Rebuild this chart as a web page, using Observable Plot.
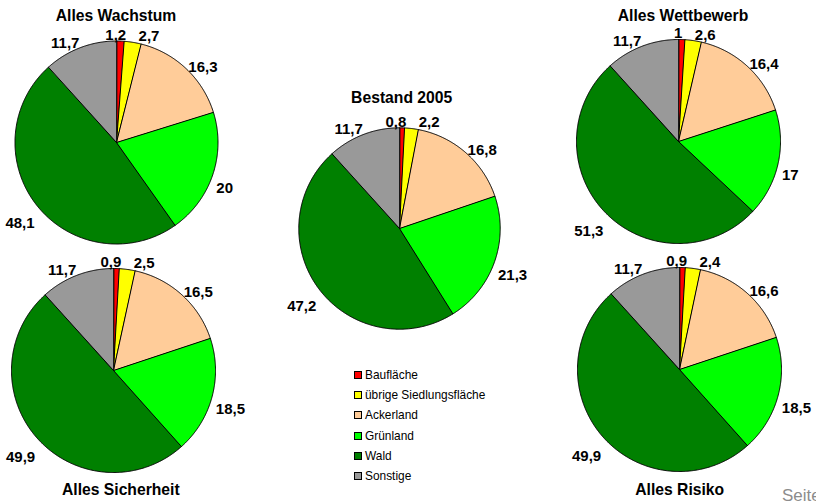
<!DOCTYPE html>
<html>
<head>
<meta charset="utf-8">
<script src="https://cdn.jsdelivr.net/npm/d3@7"></script>
<script src="https://cdn.jsdelivr.net/npm/@observablehq/plot@0.6"></script>
<style>
  html, body { margin: 0; padding: 0; background: #fff; }
  #root { position: relative; width: 816px; height: 502px; overflow: hidden; font-family: "Liberation Sans", Arial, sans-serif; }
  .pie { position: absolute; }
  .title { position: absolute; width: 300px; text-align: center; font-weight: bold; font-size: 15.7px; line-height: 1; color: #000; white-space: nowrap; }
  .legend { position: absolute; left: 354px; top: 365px; font-size: 11.9px; color: #000; }
  .legend .row { display: flex; align-items: center; height: 20.2px; }
  .legend .sw { width: 6px; height: 6px; border: 1px solid #000; margin-right: 3px; }
  .seite { position: absolute; left: 782px; top: 487px; font-size: 17px; line-height: 1; color: #8c8c8c; white-space: nowrap; }
</style>
</head>
<body>
<div id="root"></div>
<script>
// ---------- data ----------
const categories = ["Baufläche", "übrige Siedlungsfläche", "Ackerland", "Grünland", "Wald", "Sonstige"];
const sliceColors = ["#FF0000", "#FFFF00", "#FFCC99", "#00FF00", "#008000", "#999999"];
const pieTitles = ["Alles Wachstum", "Alles Sicherheit", "Bestand 2005", "Alles Wettbewerb", "Alles Risiko"];
const wachstum   = [1.2, 2.7, 16.3, 20.0, 48.1, 11.7];
const sicherheit = [0.9, 2.5, 16.5, 18.5, 49.9, 11.7];
const bestand    = [0.8, 2.2, 16.8, 21.3, 47.2, 11.7];
const wettbewerb = [1.0, 2.6, 16.4, 17.0, 51.3, 11.7];
const risiko     = [0.9, 2.4, 16.6, 18.5, 49.9, 11.7];
const seriesValues = [wachstum, sicherheit, bestand, wettbewerb, risiko];
const footerText = "Seite";

// ---------- layout (pixels) ----------
const layout = [
  {cx: 115.7, cy: 142.3, r: 101.5, tx: 116,   ty: 16},
  {cx: 113.0, cy: 370.0, r: 102.0, tx: 120.8, ty: 489.3},
  {cx: 399.0, cy: 227.5, r: 100.7, tx: 401.7, ty: 97.3},
  {cx: 678.0, cy: 141.3, r: 102.0, tx: 683,   ty: 16},
  {cx: 678.7, cy: 368.7, r: 102.0, tx: 679.7, ty: 489.3}
];
const HALF = 155;            // half size of each pie's svg (px)
const LABEL_FS = 15;
const TITLE_FS = 15.7;

const fmt = v => String(v).replace(".", ",");
const textW = (str, fs) => [...str].reduce((s, ch) => s + (/[0-9]/.test(ch) ? 0.556 : 0.278), 0) * fs;

function slicePolygons(values, r) {
  const total = d3.sum(values);
  let cum = 0;
  const pts = [];
  values.forEach((v, i) => {
    const a0 = cum / total * 2 * Math.PI;
    cum += v;
    const a1 = cum / total * 2 * Math.PI;
    pts.push({slice: i, color: sliceColors[i], x: 0, y: 0});
    const n = Math.max(2, Math.ceil((a1 - a0) / (Math.PI / 360)));
    for (let k = 0; k <= n; k++) {
      const a = a0 + (a1 - a0) * k / n;
      pts.push({slice: i, color: sliceColors[i], x: r * Math.sin(a), y: r * Math.cos(a)});
    }
  });
  return pts;
}

function sliceLabels(values, r) {
  const total = d3.sum(values);
  let cum = 0;
  const out = values.map((v) => {
    const a0 = cum / total * 2 * Math.PI;
    cum += v;
    const a1 = cum / total * 2 * Math.PI;
    const a = (a0 + a1) / 2, s = Math.sin(a), c = Math.cos(a);
    const text = fmt(v);
    const w = textW(text, LABEL_FS);
    const f = Math.max(-1, Math.min(1, s / 0.35));
    return {text, w, x: (r + 6) * s + (w / 2 - 2) * f, yDown: -(r + 14.5) * c + 8.5};
  });
  for (let i = 1; i < out.length; i++) {
    const p = out[i - 1], q = out[i];
    if (Math.abs(p.yDown - q.yDown) < 17) {
      const need = (p.w + q.w) / 2 + 12.4;
      const sep = q.x - p.x;
      if (sep < need) {
        const extra = need - sep;
        p.x -= extra / 3;
        q.x += extra * 2 / 3;
      }
    }
  }
  return out.map(d => ({text: d.text, x: d.x, y: -d.yDown}));
}

const root = document.getElementById("root");

seriesValues.forEach((values, idx) => {
  const L = layout[idx];
  const chart = Plot.plot({
    width: HALF * 2,
    height: HALF * 2,
    margin: 0,
    x: {domain: [-HALF, HALF], axis: null},
    y: {domain: [-HALF, HALF], axis: null},
    color: {type: "identity"},
    style: {background: "transparent", overflow: "visible", fontFamily: "'Liberation Sans', Arial, sans-serif"},
    marks: [
      Plot.line(slicePolygons(values, L.r), {
        x: "x", y: "y", z: "slice", fill: "color",
        stroke: "#000", strokeWidth: 1, strokeLinejoin: "round",
        curve: "linear-closed"
      }),
      Plot.text(sliceLabels(values, L.r), {
        x: "x", y: "y", text: "text",
        fontSize: LABEL_FS, fontWeight: "bold", fill: "#000"
      })
    ]
  });
  const div = document.createElement("div");
  div.className = "pie";
  div.style.left = (L.cx - HALF) + "px";
  div.style.top = (L.cy - HALF) + "px";
  div.style.width = (HALF * 2) + "px";
  div.style.height = (HALF * 2) + "px";
  div.appendChild(chart);
  root.appendChild(div);

  const t = document.createElement("div");
  t.className = "title";
  t.textContent = pieTitles[idx];
  t.style.left = (L.tx - 150) + "px";
  t.style.top = (L.ty - 0.49 * TITLE_FS) + "px";
  root.appendChild(t);
});

// legend
const legend = document.createElement("div");
legend.className = "legend";
categories.forEach((cat, i) => {
  const row = document.createElement("div");
  row.className = "row";
  const sw = document.createElement("div");
  sw.className = "sw";
  sw.style.background = sliceColors[i];
  const lab = document.createElement("span");
  lab.textContent = cat;
  row.appendChild(sw);
  row.appendChild(lab);
  legend.appendChild(row);
});
root.appendChild(legend);

const seite = document.createElement("div");
seite.className = "seite";
seite.textContent = footerText;
root.appendChild(seite);
</script>
</body>
</html>
